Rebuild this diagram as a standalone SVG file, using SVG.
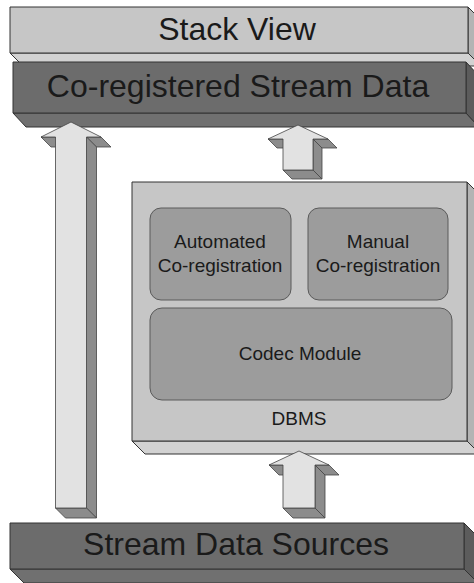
<svg xmlns="http://www.w3.org/2000/svg" width="474" height="583" viewBox="0 0 474 583">
<style>
.t{font-family:"Liberation Sans",Arial,sans-serif;fill:#1a1a1a;text-anchor:middle}
.big{font-size:32px}
.sm{font-size:19px}
.ln{stroke:#333;stroke-width:1;stroke-linejoin:round}
.lightF{fill:#c6c6c6}
.lightB{fill:#d2d2d2}
.lightR{fill:#b4b4b4}
.darkF{fill:#6c6c6c}
.darkB{fill:#707070}
.darkR{fill:#5c5c5c}
.inner{fill:#9c9c9c;stroke:#5a5a5a;stroke-width:1}
.arF{fill:#e2e2e2;stroke:#444;stroke-width:0.8;stroke-linejoin:round}
.arS{fill:#8c8c8c;stroke:#444;stroke-width:0.8;stroke-linejoin:round}
</style>
<rect width="474" height="583" fill="#ffffff"/>

<g id="stack-view">
  <polygon class="ln lightB" points="10,53 468,53 481,66 23,66"/>
  <polygon class="ln lightR" points="468,7 481,20 481,66 468,53"/>
  <rect class="ln lightF" x="10" y="7" width="458" height="46"/>
  <text class="t big" x="237" y="40">Stack View</text>
</g>

<g id="co-registered-stream-data">
  <polygon class="ln darkB" points="13,113 466,113 479,127 26,127"/>
  <polygon class="ln darkR" points="466,62 479,76 479,127 466,113"/>
  <rect class="ln darkF" x="13" y="62" width="453" height="51"/>
  <text class="t big" x="238" y="97">Co-registered Stream Data</text>
</g>

<g id="dbms">
  <polygon class="ln lightB" points="132,441 467,441 480,454 145,454"/>
  <polygon class="ln lightR" points="467,182 480,195 480,454 467,441"/>
  <rect class="ln lightF" x="132" y="182" width="335" height="259"/>
  <text class="t sm" x="299" y="425">DBMS</text>
</g>

<g id="automated-co-registration">
  <rect class="inner" x="150" y="208" width="141" height="92" rx="11"/>
  <text class="t sm" x="220" y="248">Automated</text>
  <text class="t sm" x="220" y="272">Co-registration</text>
</g>

<g id="manual-co-registration">
  <rect class="inner" x="308" y="208" width="140" height="92" rx="11"/>
  <text class="t sm" x="378" y="248">Manual</text>
  <text class="t sm" x="378" y="272">Co-registration</text>
</g>

<g id="codec-module">
  <rect class="inner" x="150" y="308" width="302" height="92" rx="12"/>
  <text class="t sm" x="300" y="360">Codec Module</text>
</g>

<g id="stream-data-sources">
  <polygon class="ln darkB" points="10,569 464,569 478,583 24,583"/>
  <polygon class="ln darkR" points="464,523 478,537 478,583 464,569"/>
  <rect class="ln darkF" x="10" y="523" width="454" height="46"/>
  <text class="t big" x="236" y="555">Stream Data Sources</text>
</g>

<g id="connectors">
  <g id="arrow-sources-to-coreg">
    <polygon class="arS" points="41,137 55.5,137 65.5,147 51,147"/>
    <polygon class="arS" points="86.5,137 101,137 111,147 96.5,147"/>
    <polygon class="arS" points="86.5,137 96.5,147 96.5,518 86.5,508"/>
    <polygon class="arS" points="55.5,508 86.5,508 96.5,518 65.5,518"/>
    <polygon class="arF" points="71,122 101,137 86.5,137 86.5,508 55.5,508 55.5,137 41,137"/>
  </g>
  <g id="arrow-dbms-to-coreg">
    <polygon class="arS" points="268,139 283,139 292,148 277,148"/>
    <polygon class="arS" points="313,139 328,139 337,148 322,148"/>
    <polygon class="arS" points="313,139 322,148 322,179 313,170"/>
    <polygon class="arS" points="283,170 313,170 322,179 292,179"/>
    <polygon class="arF" points="298,125 328,139 313,139 313,170 283,170 283,139 268,139"/>
  </g>
  <g id="arrow-sources-to-dbms">
    <polygon class="arS" points="269,465 283,465 293,475 279,475"/>
    <polygon class="arS" points="315,465 329,465 339,475 325,475"/>
    <polygon class="arS" points="315,465 325,475 325,518 315,508"/>
    <polygon class="arS" points="283,508 315,508 325,518 293,518"/>
    <polygon class="arF" points="299,451 329,465 315,465 315,508 283,508 283,465 269,465"/>
  </g>
</g>
</svg>
